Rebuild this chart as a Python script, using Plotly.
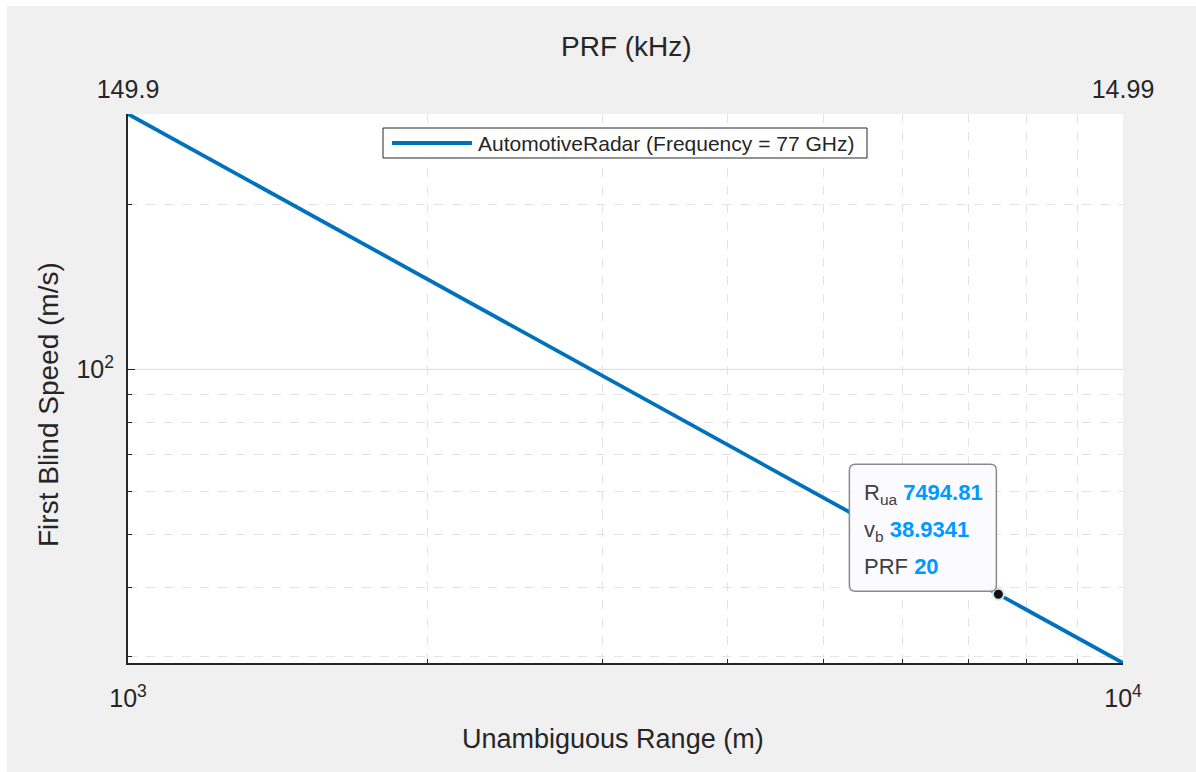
import math
import plotly.graph_objects as go

# Unambiguous range (m) and first blind speed (m/s) of the 77 GHz automotive radar
range_m = [1000, 7494.81, 10000]
blind_speed = [291.79, 38.9341, 29.179]
prf_khz = [149.896, 20, 14.9896]

# selected data tip
tip_range = 7494.81
tip_speed = 38.9341
tip_prf = 20

x_major = [1000, 10000]
x_major_text = ["10<sup>3</sup>", "10<sup>4</sup>"]
x_minor = [2000, 3000, 4000, 5000, 6000, 7000, 8000, 9000]
y_major = [100]
y_major_text = ["10<sup>2</sup>"]
y_minor = [30, 40, 50, 60, 70, 80, 90, 200]
prf_ticks = [149.896, 14.9896]
prf_tick_text = ["149.9", "14.99"]

W, H = 1196, 772
L, R, T, B = 128, 1123, 114, 663
FONT = "Liberation Sans, Arial, sans-serif"
TXT = "#262626"
BLUE = "#0072bd"
GRID = "#dcdcdc"
MINOR_GRID = "#e3e3e3"
VAL = "#0099ff"


def px(x):
    return (x - L) / (R - L)


def py(y):
    return (B - y) / (B - T)


fig = go.Figure()

fig.add_trace(go.Scatter(
    x=range_m, y=blind_speed, mode="lines",
    line=dict(color=BLUE, width=3.8),
    name="AutomotiveRadar (Frequency = 77 GHz)",
    showlegend=False, hoverinfo="skip",
))
# same curve against PRF, drives the top axis
fig.add_trace(go.Scatter(
    x=prf_khz, y=blind_speed, xaxis="x2", mode="lines",
    line=dict(color="rgba(0,0,0,0)", width=0),
    showlegend=False, hoverinfo="skip",
))
# data tip marker
fig.add_trace(go.Scatter(
    x=[tip_range], y=[tip_speed], mode="markers",
    marker=dict(size=11, color="#111111", line=dict(color="#cfe8e8", width=2)),
    showlegend=False, hoverinfo="skip",
))

shapes = [
    # figure background
    dict(type="rect", xref="paper", yref="paper", layer="below",
         x0=px(7), x1=px(W + 5), y0=py(H + 5), y1=py(6),
         fillcolor="#f0f0f0", line=dict(width=0)),
    dict(type="rect", xref="paper", yref="paper", layer="below",
         x0=0, x1=1, y0=0, y1=1, fillcolor="white", line=dict(width=0)),
    # major grid line at 10^2
    dict(type="line", xref="paper", yref="y", x0=0, x1=1, y0=100, y1=100,
         layer="below", line=dict(color=GRID, width=1)),
]

# data tip box, rounded, anchored at the tip point in pixels
x0, x1, y0, y1, r = -149, -2, 3, 130, 6
path = (f"M{x0 + r},{y0} L{x1 - r},{y0} Q{x1},{y0} {x1},{y0 + r} "
        f"L{x1},{y1 - r} Q{x1},{y1} {x1 - r},{y1} L{x0 + r},{y1} "
        f"Q{x0},{y1} {x0},{y1 - r} L{x0},{y0 + r} Q{x0},{y0} {x0 + r},{y0} Z")
shapes.append(dict(type="path", xref="x", yref="y",
                   xsizemode="pixel", ysizemode="pixel",
                   xanchor=tip_range, yanchor=tip_speed, path=path,
                   fillcolor="#fafaff", line=dict(color="#8a8a8a", width=1.5)))

# legend box
shapes.append(dict(type="rect", xref="paper", yref="paper",
                   x0=px(383), x1=px(867), y0=py(158), y1=py(128),
                   fillcolor="white", line=dict(color="#262626", width=1)))
shapes.append(dict(type="line", xref="paper", yref="paper",
                   x0=px(392), x1=px(472), y0=py(143), y1=py(143),
                   line=dict(color=BLUE, width=3.8)))

lx, ly = math.log10(tip_range), math.log10(tip_speed)
tip_font = dict(family=FONT, size=22, color="#404040")
title_font = dict(family=FONT, size=28, color=TXT)
annotations = [
    dict(xref="paper", yref="paper", x=px(476), y=py(144), xanchor="left",
         yanchor="middle", showarrow=False,
         text="AutomotiveRadar (Frequency = 77 GHz)",
         font=dict(family=FONT, size=21, color=TXT)),
    dict(xref="x", yref="y", x=lx, y=ly, xanchor="left", yanchor="middle",
         xshift=-136, yshift=100, showarrow=False,
         text=f"R<sub>ua</sub> <b><span style='color:{VAL}'>{tip_range}</span></b>",
         font=tip_font),
    dict(xref="x", yref="y", x=lx, y=ly, xanchor="left", yanchor="middle",
         xshift=-136, yshift=63, showarrow=False,
         text=f"v<sub>b</sub> <b><span style='color:{VAL}'>{tip_speed}</span></b>",
         font=tip_font),
    dict(xref="x", yref="y", x=lx, y=ly, xanchor="left", yanchor="middle",
         xshift=-136, yshift=28, showarrow=False,
         text=f"PRF <b><span style='color:{VAL}'>{tip_prf}</span></b>",
         font=tip_font),
    # axis titles
    dict(xref="paper", yref="paper", x=px(626), y=py(47), xanchor="center",
         yanchor="middle", showarrow=False, text="PRF (kHz)", font=title_font),
    dict(xref="paper", yref="paper", x=px(613), y=py(739), xanchor="center",
         yanchor="middle", showarrow=False, text="Unambiguous Range (m)",
         font=dict(family=FONT, size=27, color=TXT)),
    dict(xref="paper", yref="paper", x=px(49), y=py(405), xanchor="center",
         yanchor="middle", showarrow=False, text="First Blind Speed (m/s)",
         textangle=-90, font=title_font),
]

tick_font = dict(family=FONT, size=25, color=TXT)

fig.update_layout(
    width=W, height=H,
    margin=dict(l=L, r=W - R, t=T, b=H - B, pad=0),
    paper_bgcolor="white", plot_bgcolor="rgba(0,0,0,0)",
    font=dict(family=FONT, color=TXT),
    shapes=shapes, annotations=annotations,
    xaxis=dict(
        type="log", range=[3, 4],
        tickmode="array", tickvals=x_major, ticktext=x_major_text,
        ticks="inside", ticklen=7, tickcolor="#262626", tickwidth=1,
        tickfont=tick_font, ticklabelstandoff=12,
        showline=True, linecolor="#262626", linewidth=2,
        showgrid=False, zeroline=False, mirror=False,
        minor=dict(tickmode="array", tickvals=x_minor, ticks="inside",
                   ticklen=4, tickcolor="#262626",
                   showgrid=True, gridcolor=MINOR_GRID, griddash="dash", gridwidth=1),
    ),
    xaxis2=dict(
        type="log", overlaying="x", side="top", anchor="y",
        range=[math.log10(prf_ticks[0]), math.log10(prf_ticks[1])],
        tickmode="array", tickvals=prf_ticks, ticktext=prf_tick_text,
        ticks="", tickfont=tick_font, ticklabelstandoff=10,
        showline=False, showgrid=False, zeroline=False,
    ),
    yaxis=dict(
        type="log", range=[math.log10(blind_speed[2]), math.log10(blind_speed[0])],
        tickmode="array", tickvals=y_major, ticktext=y_major_text,
        ticks="inside", ticklen=7, tickcolor="#262626",
        tickfont=tick_font, ticklabelstandoff=7,
        showline=True, linecolor="#262626", linewidth=2,
        showgrid=False, zeroline=False,
        minor=dict(tickmode="array", tickvals=y_minor, ticks="inside",
                   ticklen=4, tickcolor="#262626",
                   showgrid=True, gridcolor=MINOR_GRID, griddash="dash", gridwidth=1),
    ),
)

fig.write_html("out.html")
